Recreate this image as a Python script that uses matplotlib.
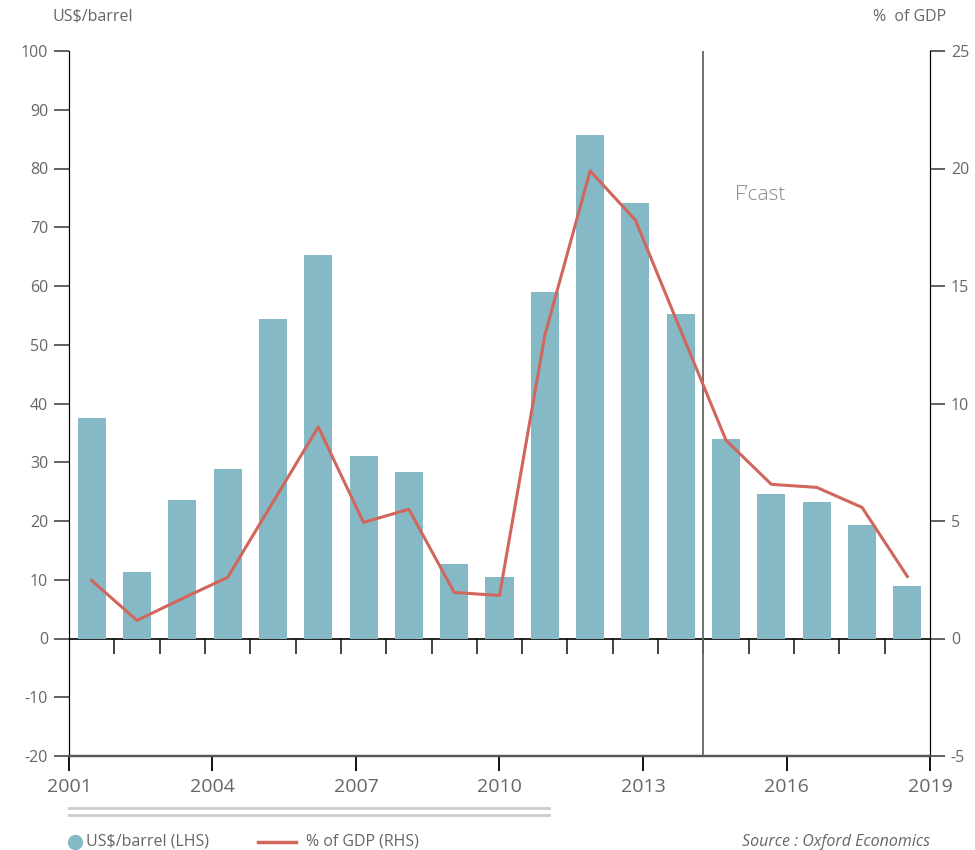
import numpy as np
import matplotlib
matplotlib.use('Agg')
import matplotlib.pyplot as plt
from matplotlib.lines import Line2D

plt.rcParams['font.family'] = ['Open Sans', 'DejaVu Sans']
plt.rcParams['axes.unicode_minus'] = False

# data
years = list(range(2001, 2020))
oil_price = [37.5, 11.4, 23.5, 28.8, 54.3, 65.2, 31.0, 28.4, 12.6, 10.4,
             58.9, 85.7, 74.1, 55.2, 33.9, 24.6, 23.2, 19.3, 8.9]
pct_gdp = [2.47, 0.77, 1.7, 2.6, 5.8, 9.0, 4.94, 5.5, 1.96, 1.83,
           12.9, 19.9, 17.8, 13.1, 8.43, 6.56, 6.43, 5.58, 2.64]
year_labels = [2001, 2004, 2007, 2010, 2013, 2016, 2019]
forecast_start = 2015

bar_col = '#86b9c6'
line_col = '#d0665c'
txt_col = '#666666'

fig = plt.figure(figsize=(9.75, 8.5), dpi=100)
ax = fig.add_axes([69/975, 1 - 756/850, (930 - 69)/975, (756 - 51)/850])
ax2 = ax.twinx()

n = len(years)
pos = np.arange(n) + 0.5
ax.bar(pos, oil_price, width=0.62, color=bar_col, zorder=2)
ax2.plot(pos, pct_gdp, color=line_col, lw=2.2, zorder=3)

ax.set_xlim(0, n)
ax.set_ylim(-20, 100)
ax.set_yticks(range(-20, 101, 10))
ax2.set_ylim(-5, 25)
ax2.set_yticks(range(-5, 26, 5))

# year axis is a linear scale over the full width
ax.set_xticks([(y - 2001) * n / 18 for y in year_labels])
ax.set_xticklabels([str(y) for y in year_labels])

for a in (ax, ax2):
    a.spines['top'].set_visible(False)
    a.spines['left'].set_color('black')
    a.spines['right'].set_color('black')
    a.spines['bottom'].set_color('#555555')
    a.spines['bottom'].set_linewidth(1.6)
    a.patch.set_visible(False)

ax.tick_params(axis='y', direction='out', length=11, width=1.3, color='#555555',
               labelsize=11.5, labelcolor=txt_col, pad=4)
ax2.tick_params(axis='y', direction='out', length=11, width=1.3, color='#555555',
                labelsize=11.5, labelcolor=txt_col, pad=4)
ax.tick_params(axis='x', direction='out', length=11, width=1.3, color='black',
               labelsize=14, labelcolor=txt_col, pad=5)

# zero line with slot ticks
zero = ax.secondary_xaxis(20 / 120)
zero.set_xticks(np.arange(1, n))
zero.set_xticklabels([])
zero.tick_params(direction='out', length=11, width=1.3, color='#333333')
zero.spines['bottom'].set_color('black')
zero.spines['bottom'].set_linewidth(1.2)

# forecast marker
fc = years.index(forecast_start)
ax.axvline(fc, color='#666666', lw=1.3, zorder=4)
ax.text(fc + 0.7, 75.5, "F’cast", fontsize=15, color='#888888', ha='left', va='center',
        fontweight='light')

fig.text(52/975, 1 - 17/850, 'US$/barrel', fontsize=11.5, color=txt_col, va='center')
fig.text(946/975, 1 - 17/850, '%  of GDP', fontsize=11.5, color=txt_col, va='center', ha='right')

# decorative double rule under the axis
for yy in (808, 815):
    fig.add_artist(Line2D([69/975, 549/975], [1 - yy/850, 1 - yy/850], color='#cccccc', lw=2))

# legend
fig.add_artist(Line2D([75/975], [1 - 842/850], marker='o', markersize=10, color=bar_col, lw=0))
fig.text(86/975, 1 - 842/850, 'US$/barrel (LHS)', fontsize=11.5, color=txt_col, va='center')
fig.add_artist(Line2D([258/975, 296/975], [1 - 842/850, 1 - 842/850], color=line_col, lw=2.5))
fig.text(306/975, 1 - 842/850, '% of GDP (RHS)', fontsize=11.5, color=txt_col, va='center')
fig.text(930/975, 1 - 842/850, 'Source : Oxford Economics', fontsize=11.5, color=txt_col,
         va='center', ha='right', style='italic')

fig.savefig('out.png', dpi=100)
